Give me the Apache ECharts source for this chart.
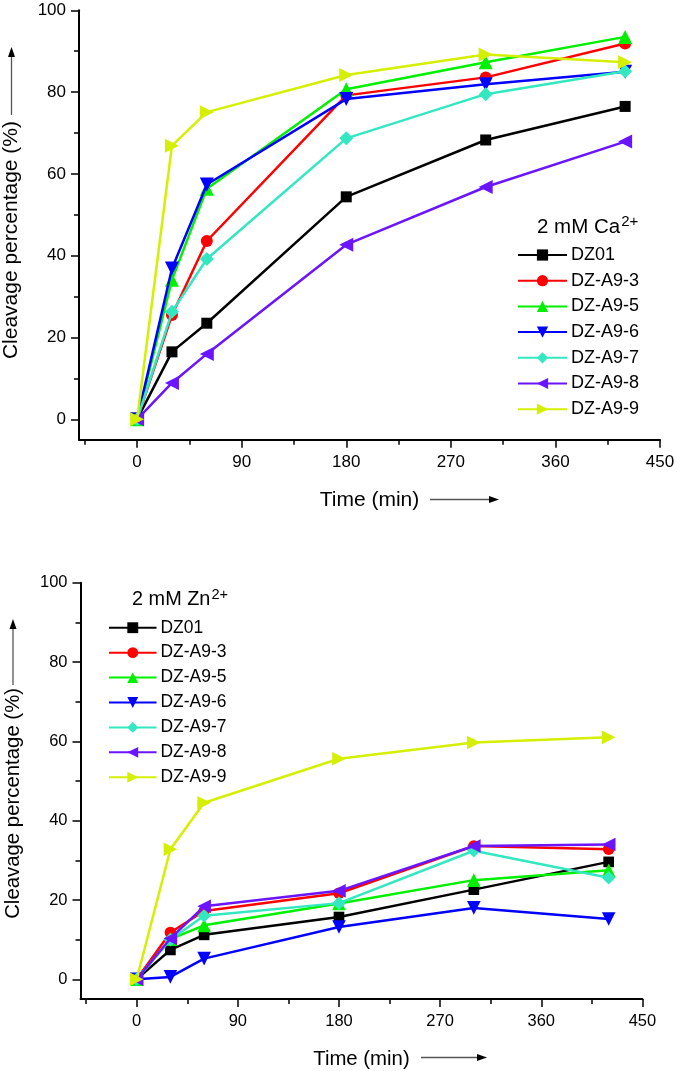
<!DOCTYPE html>
<html>
<head>
<meta charset="utf-8">
<title>Cleavage percentage</title>
<script src="https://cdn.jsdelivr.net/npm/echarts@6/dist/echarts.min.js"></script>
<style>
html, body { margin: 0; padding: 0; background: #fff; }
#chart { width: 680px; height: 1071px; }
</style>
</head>
<body>
<div id="chart"></div>
<script>
// 时间点 (min)
const times = [0, 30, 60, 180, 300, 420];
const seriesNames = ['DZ01', 'DZ-A9-3', 'DZ-A9-5', 'DZ-A9-6', 'DZ-A9-7', 'DZ-A9-8', 'DZ-A9-9'];

// 2 mM Ca2+
const caDZ01 = [0, 16.5, 23.5, 54.4, 68.3, 76.5];
const caA93 = [0, 25.5, 43.6, 79.2, 83.6, 91.9];
const caA95 = [0, 34.1, 56.4, 80.7, 87.3, 93.5];
const caA96 = [0, 36.9, 57.4, 78.3, 81.9, 85.0];
const caA97 = [0, 26.3, 39.2, 68.7, 79.5, 85.1];
const caA98 = [0, 8.9, 16.0, 42.7, 56.8, 67.9];
const caA99 = [0, 66.9, 75.1, 84.2, 89.2, 87.3];

// 2 mM Zn2+
const znDZ01 = [0, 7.4, 11.2, 15.7, 22.6, 29.6];
const znA93 = [0, 11.8, 17.2, 21.7, 33.6, 32.8];
const znA95 = [0, 10.1, 13.6, 19.1, 25.0, 27.5];
const znA96 = [0, 0.6, 5.2, 13.2, 18.0, 15.2];
const znA97 = [0, 10.0, 16.0, 19.2, 32.4, 25.6];
const znA98 = [0, 10.3, 18.4, 22.3, 33.6, 34.0];
const znA99 = [0, 32.8, 44.5, 55.6, 59.7, 61.0];

// 刻度
const xTicks = [0, 90, 180, 270, 360, 450];
const xMinorTicks = [-45, 45, 135, 225, 315, 405];
const yTicks = [0, 20, 40, 60, 80, 100];
const yMinorTicks = [10, 30, 50, 70, 90];

const caData = [caDZ01, caA93, caA95, caA96, caA97, caA98, caA99];
const znData = [znDZ01, znA93, znA95, znA96, znA97, znA98, znA99];

// 样式
const colors = ['#000000', '#ff0000', '#00f000', '#0000ff', '#33e8c0', '#6a14ff', '#d4f000'];
const symbols = ['rect', 'circle', 'triangle', 'triangle', 'diamond', 'triangle', 'triangle'];
const rotates = [0, 0, 0, 180, 0, 90, -90];
const symbolSizes = [11, 12, 14, 14, 14, 14, 14];
const font = "'Liberation Sans', Arial, sans-serif";

// 两个子图的布局
const panels = [
    { data: caData, grid: { left: 79, top: 10.3, width: 581, height: 429.5 }, s: 1, head: 'Ca',
      legendLeft: 517, legendTop: 245, titleLeft: 537, titleTop: 214, nameShift: 30 },
    { data: znData, grid: { left: 80.5, top: 582.7, width: 561.9, height: 416.4 }, s: 0.97, head: 'Zn',
      legendLeft: 108, legendTop: 618, titleLeft: 132, titleTop: 587, nameShift: 25 }
];

const grids = [], xAxes = [], yAxes = [], series = [], legends = [], titles = [], graphics = [];

panels.forEach((p, i) => {
    grids.push(Object.assign({ containLabel: false, outerBoundsMode: 'none' }, p.grid));
    const tickFont = 17 * p.s;
    const nameFont = 21 * p.s;

    // 主坐标轴
    xAxes.push({
        type: 'value', gridIndex: i, min: -50, max: 450,
        axisLine: { show: true, onZero: false, lineStyle: { color: '#000', width: 2 } },
        axisTick: { show: true, customValues: xTicks, length: 8, lineStyle: { color: '#000', width: 1.5 } },
        axisLabel: { customValues: xTicks, color: '#000', fontSize: tickFont, fontFamily: font, margin: 14 },
        splitLine: { show: false },
        name: 'Time (min)', nameLocation: 'middle', nameGap: 50,
        nameTextStyle: { color: '#000', fontSize: nameFont, fontFamily: font }
    });
    // 次刻度
    xAxes.push({
        type: 'value', gridIndex: i, min: -50, max: 450, position: 'bottom',
        axisLine: { show: false, onZero: false },
        axisTick: { show: true, customValues: xMinorTicks, length: 5, lineStyle: { color: '#000', width: 1.5 } },
        axisLabel: { show: false },
        splitLine: { show: false }
    });
    yAxes.push({
        type: 'value', gridIndex: i, min: -5, max: 100,
        axisLine: { show: true, onZero: false, lineStyle: { color: '#000', width: 2 } },
        axisTick: { show: true, customValues: yTicks, length: 8, lineStyle: { color: '#000', width: 1.5 } },
        axisLabel: { customValues: yTicks, color: '#000', fontSize: tickFont, fontFamily: font, margin: 13 },
        splitLine: { show: false },
        name: 'Cleavage percentage (%)', nameLocation: 'middle', nameGap: 57,
        nameTextStyle: { color: '#000', fontSize: nameFont, fontFamily: font, padding: [0, p.nameShift, 0, 0] }
    });
    yAxes.push({
        type: 'value', gridIndex: i, min: -5, max: 100, position: 'left',
        axisLine: { show: false, onZero: false },
        axisTick: { show: true, customValues: yMinorTicks, length: 5, lineStyle: { color: '#000', width: 1.5 } },
        axisLabel: { show: false },
        splitLine: { show: false }
    });

    p.data.forEach((vals, k) => {
        series.push({
            name: seriesNames[k],
            type: 'line',
            xAxisIndex: i * 2,
            yAxisIndex: i * 2,
            data: times.map((t, j) => [t, vals[j]]),
            symbol: symbols[k],
            symbolSize: symbolSizes[k] * p.s,
            symbolRotate: rotates[k],
            showAllSymbol: true,
            lineStyle: { color: colors[k], width: 2.5 },
            itemStyle: { color: colors[k] },
            z: 2 + k
        });
    });

    legends.push({
        data: seriesNames,
        orient: 'vertical',
        left: p.legendLeft,
        top: p.legendTop,
        itemWidth: 49 * p.s,
        itemHeight: 14 * p.s,
        itemGap: 5.7 * p.s,
        padding: 0,
        selectedMode: false,
        textStyle: { color: '#000', fontSize: 18 * p.s, fontFamily: font, lineHeight: 20 * p.s, padding: [0, 0, 0, -1] }
    });

    titles.push({
        text: '2 mM ' + p.head + '{s|2+}',
        left: p.titleLeft,
        top: p.titleTop,
        padding: 0,
        textStyle: {
            color: '#000', fontSize: 20.5 * p.s, fontFamily: font, fontWeight: 'normal', verticalAlign: 'bottom',
            rich: {
                s: { fontSize: 15 * p.s, fontFamily: font, color: '#000', verticalAlign: 'bottom', padding: [0, 0, 11, 1] }
            }
        }
    });
});

// 坐标轴名称旁的箭头
function hArrow(x1, x2, y) {
    graphics.push({ type: 'line', shape: { x1: x1, y1: y, x2: x2 - 8, y2: y }, style: { stroke: '#555', lineWidth: 1.3 } });
    graphics.push({ type: 'polygon', shape: { points: [[x2 - 10, y - 3.5], [x2, y], [x2 - 10, y + 3.5]] }, style: { fill: '#000' } });
}
function vArrow(x, y1, y2) {
    graphics.push({ type: 'line', shape: { x1: x, y1: y1, x2: x, y2: y2 + 8 }, style: { stroke: '#555', lineWidth: 1.3 } });
    graphics.push({ type: 'polygon', shape: { points: [[x - 3.5, y2 + 10], [x, y2], [x + 3.5, y2 + 10]] }, style: { fill: '#000' } });
}
hArrow(430, 499, 499.5);
hArrow(421, 487, 1057.5);
vArrow(11.5, 115, 47);
vArrow(13, 685, 619);

const chart = echarts.init(document.getElementById('chart'));
chart.setOption({
    backgroundColor: '#fff',
    animation: false,
    title: titles,
    legend: legends,
    grid: grids,
    xAxis: xAxes,
    yAxis: yAxes,
    series: series,
    graphic: graphics
});
</script>
</body>
</html>
